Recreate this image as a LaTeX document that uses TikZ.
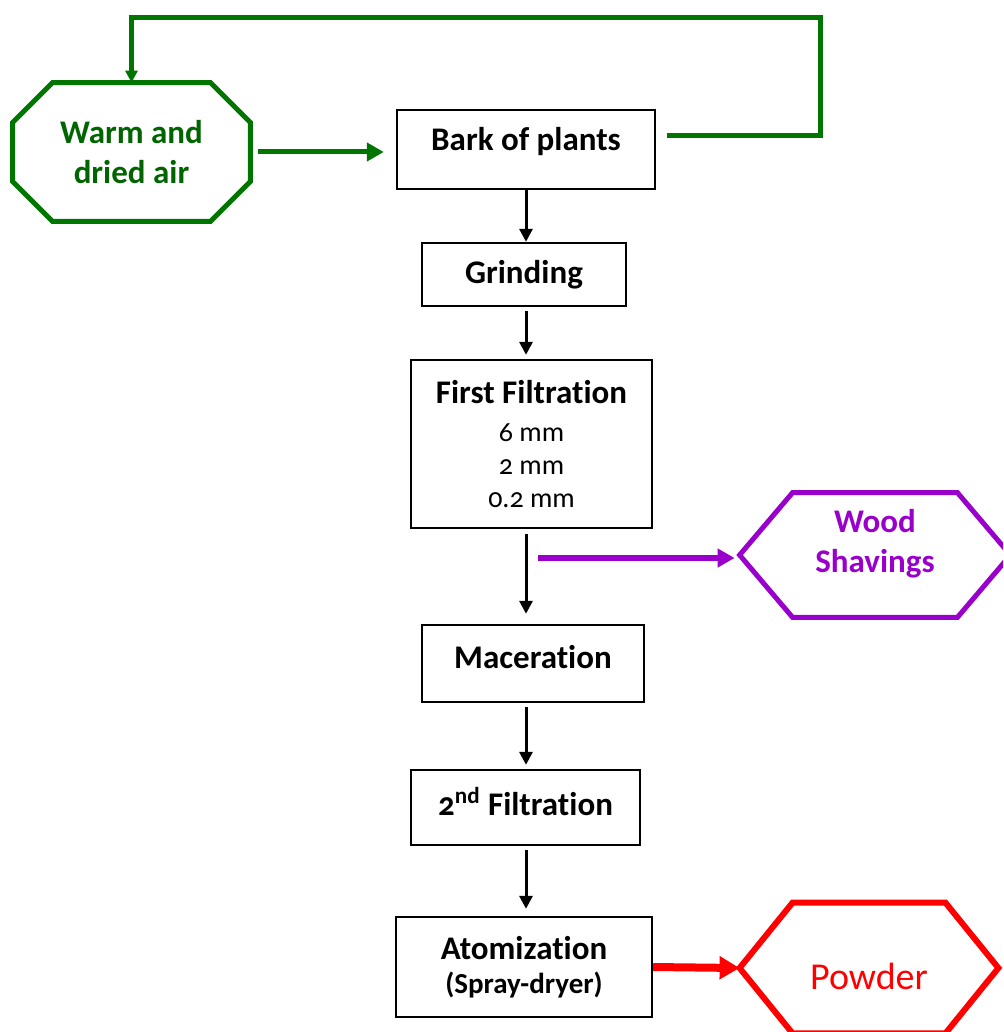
\documentclass[tikz,border=0pt]{standalone}
\usepackage{fontspec}
\setmainfont{Carlito}[Numbers=OldStyle, Ligatures=NoCommon]
\usetikzlibrary{arrows.meta}
\definecolor{airgreen}{RGB}{0,118,0}
\definecolor{airtext}{RGB}{0,100,0}
\definecolor{shavpurple}{RGB}{153,0,204}

\begin{document}
\begin{tikzpicture}[x=0.5pt,y=-0.5pt,
  stepbox/.style={draw, line width=1.2pt, align=center, font=\fontsize{16.5}{20}\selectfont\bfseries},
  flow/.style={-{Triangle[length=6.5pt,width=6.5pt]}, line width=1.5pt, shorten <=2pt, shorten >=2pt},
  airflow/.style={airgreen, line width=2.5pt, -{Triangle[length=8.5pt,width=9pt]}},
  shavflow/.style={shavpurple, line width=3pt, -{Triangle[length=8.5pt,width=9pt]}},
  powflow/.style={red, line width=4pt, -{Triangle[length=10pt,width=11pt]}}]
\clip (0,0) rectangle (1003,1032);

% process boxes
\node (bark) at (526,149.5) [stepbox, minimum width=129pt, minimum height=39.5pt, text depth=11pt] {Bark of plants};
\node (grind) at (524,274.5) [stepbox, minimum width=102pt, minimum height=31.5pt] {Grinding};
\node (filt1) at (531.5,444) [stepbox, minimum width=120.5pt, minimum height=84pt, font=\fontsize{16.5}{16.5}\selectfont\bfseries] {First Filtration\\[2.5pt] {\mdseries\fontsize{14}{16.5}\selectfont 6 mm}\\ {\mdseries\fontsize{14}{16.5}\selectfont 2 mm}\\ {\mdseries\fontsize{14}{16.5}\selectfont 0.2 mm}};
\node (mace) at (533,663.5) [stepbox, minimum width=111pt, minimum height=38.5pt, text depth=6.5pt] {Maceration};
\node (filt2) at (525.5,807.5) [stepbox, minimum width=114.5pt, minimum height=37.5pt, text depth=6pt] {2\textsuperscript{nd} Filtration};
\node (atom) at (524,967) [stepbox, minimum width=128pt, minimum height=50pt, font=\fontsize{16.5}{17}\selectfont\bfseries] {Atomization\\ {\fontsize{14.5}{17}\selectfont (Spray-dryer)}};

% inputs and outputs
\node (air) at (131.5,152) [airtext, minimum width=118.5pt, minimum height=69pt, align=center, font=\fontsize{16.5}{20}\selectfont\bfseries] {Warm and\\dried air};
\draw [airgreen, line width=2.5pt] ([xshift=20pt]air.north west) -- ([xshift=-20pt]air.north east) -- ([yshift=-20pt]air.north east) -- ([yshift=20pt]air.south east) -- ([xshift=-20pt]air.south east) -- ([xshift=20pt]air.south west) -- ([yshift=20pt]air.south west) -- ([yshift=-20pt]air.north west) -- cycle;

\node (wood) at (875,555) [shavpurple, minimum width=135pt, minimum height=62pt, align=center, text depth=14pt, font=\fontsize{16.5}{20}\selectfont\bfseries] {Wood\\Shavings};
\draw [shavpurple, line width=2.5pt] (wood.west) -- ([xshift=26.5pt]wood.north west) -- ([xshift=-26.5pt]wood.north east) -- (wood.east) -- ([xshift=-26.5pt]wood.south east) -- ([xshift=26.5pt]wood.south west) -- cycle;

\node (powder) at (869,968) [red, minimum width=129pt, minimum height=65pt, text height=21.6pt, font=\fontsize{19}{20}\selectfont] {Powder};
\draw [red, line width=3pt] (powder.west) -- ([xshift=26.5pt]powder.north west) -- ([xshift=-26.5pt]powder.north east) -- (powder.east) -- ([xshift=-26.5pt]powder.south east) -- ([xshift=26.5pt]powder.south west) -- cycle;

% main line
\draw [flow, shorten <=0pt, shorten >=0pt] (bark.south) -- (bark.south |- grind.north);
\draw [flow] (grind.south -| bark.south) -- (filt1.north -| bark.south);
\draw [flow, shorten <=2.5pt, shorten >=5pt] (filt1.south -| bark.south) -- (mace.north -| bark.south);
\draw [flow] (mace.south -| bark.south) -- (filt2.north -| bark.south);
\draw [flow, shorten >=3.5pt] (filt2.south -| bark.south) -- (atom.north -| bark.south);

% air loop
\coordinate (loopstart) at ([xshift=5.5pt,yshift=6.75pt]bark.east);
\coordinate (loopcorner) at (820,18);
\draw [airflow, -{Triangle[length=6pt,width=6pt]}] (loopstart) -| (loopcorner) -| (air.north);
\draw [airflow, shorten <=4pt, shorten >=6pt] (air.east) -- (air.east -| bark.west);

% side outputs
\coordinate (branch) at (538,558);
\draw [shavflow, shorten >=2.5pt] (branch) -- (branch -| wood.west);
\draw [powflow] (atom.east) -- (powder.west);
\end{tikzpicture}
\end{document}
